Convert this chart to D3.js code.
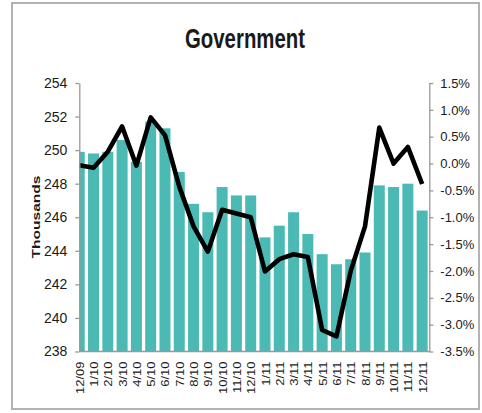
<!DOCTYPE html>
<html>
<head>
<meta charset="utf-8">
<script src="https://cdn.jsdelivr.net/npm/d3@7"></script>
<style>
  html, body { margin: 0; padding: 0; background: #fff; }
  svg { display: block; }
  text { font-family: "Liberation Sans", Arial, sans-serif; fill: #1a1a1a; }
</style>
</head>
<body>
<svg id="chart" width="482" height="413"></svg>
<script>
// Monthly government employment (thousands) and year-over-year change (%)
const months = ["12/09","1/10","2/10","3/10","4/10","5/10","6/10","7/10","8/10","9/10","10/10","11/10","12/10",
                "1/11","2/11","3/11","4/11","5/11","6/11","7/11","8/11","9/11","10/11","11/11","12/11"];
const employment = [249.9, 249.8, 249.9, 250.6, 249.3, 251.7, 251.3, 248.7, 246.8, 246.3, 247.8, 247.3, 247.3,
                    244.8, 245.5, 246.3, 245.0, 243.8, 243.2, 243.5, 243.9, 247.9, 247.8, 248.0, 246.4];
const yoyChange = [-0.03, -0.08, 0.22, 0.69, -0.04, 0.86, 0.53, -0.43, -1.17, -1.64, -0.86, -0.93, -1.00,
                   -2.01, -1.78, -1.69, -1.74, -3.10, -3.22, -2.00, -1.17, 0.67, 0.00, 0.31, -0.38];
const leftTicks = [238, 240, 242, 244, 246, 248, 250, 252, 254];
const rightTicks = [-3.5, -3.0, -2.5, -2.0, -1.5, -1.0, -0.5, 0.0, 0.5, 1.0, 1.5];

const svg = d3.select("#chart");
const plot = { left: 79.3, right: 429.3, top: 83, bottom: 351.5 };

// frame
svg.append("rect")
  .attr("x", 12).attr("y", 3).attr("width", 467).attr("height", 406)
  .attr("fill", "none").attr("stroke", "#b2b2b2").attr("stroke-width", 2);

// category axis: first category sits on the value axis
const x = d3.scaleBand().domain(months)
  .range([plot.left - 7.2, plot.right])
  .paddingInner(0.23).paddingOuter(0.115);
const cx = d => x(d) + x.bandwidth() / 2;

const y = d3.scaleLinear().domain([238, 254]).range([plot.bottom, plot.top]);
const y2 = d3.scaleLinear().domain([-3.5, 1.5]).range([plot.bottom, plot.top]);

svg.append("clipPath").attr("id", "plotClip")
  .append("rect").attr("x", plot.left).attr("y", 0)
  .attr("width", 482 - plot.left).attr("height", 413);

const body = svg.append("g").attr("clip-path", "url(#plotClip)");

// bars
body.selectAll("rect.bar").data(months).join("rect")
  .attr("class", "bar")
  .attr("x", d => x(d))
  .attr("width", x.bandwidth())
  .attr("y", (d, i) => y(employment[i]))
  .attr("height", (d, i) => plot.bottom - y(employment[i]))
  .attr("fill", "#4bbab4");

// year-over-year line
const line = d3.line().x((d, i) => cx(months[i])).y(d => y2(d));
body.append("path").datum(yoyChange)
  .attr("d", line)
  .attr("fill", "none").attr("stroke", "#000")
  .attr("stroke-width", 4.6).attr("stroke-linejoin", "round").attr("stroke-linecap", "butt");

// left axis
const gl = svg.append("g").attr("transform", `translate(${plot.left},0)`)
  .call(d3.axisLeft(y).tickValues(leftTicks).tickSize(4).tickSizeOuter(0).tickPadding(8));
gl.selectAll("text").style("font-size", "14px");

// right axis
const gr = svg.append("g").attr("transform", `translate(${plot.right},0)`)
  .call(d3.axisRight(y2).tickValues(rightTicks).tickSize(4).tickSizeOuter(0).tickPadding(7)
    .tickFormat(d => d.toFixed(1) + "%"));
gr.selectAll("text").style("font-size", "13px");

[gl, gr].forEach(g => {
  g.select(".domain").attr("stroke", "#999").attr("stroke-width", 1.3);
  g.selectAll(".tick line").attr("stroke", "#999").attr("stroke-width", 1.3);
  g.selectAll("text").attr("fill", "#1a1a1a");
});

// bottom axis
svg.append("line")
  .attr("x1", plot.left).attr("x2", plot.right)
  .attr("y1", plot.bottom).attr("y2", plot.bottom)
  .attr("stroke", "#999").attr("stroke-width", 1.3);

const gb = svg.append("g").attr("transform", `translate(0,${plot.bottom})`)
  .call(d3.axisBottom(x).tickSize(0));
gb.select(".domain").remove();
gb.selectAll("text")
  .attr("transform", "rotate(-90) scale(1.3,1)")
  .attr("x", -10 / 1.3).attr("y", 0).attr("dy", "0.45em")
  .attr("text-anchor", "end")
  .style("font-size", "10px");

// titles
svg.append("text")
  .attr("x", 245).attr("y", 48)
  .attr("text-anchor", "middle")
  .attr("textLength", 120).attr("lengthAdjust", "spacingAndGlyphs")
  .style("font-size", "28px").style("font-weight", "bold")
  .attr("fill", "#000")
  .text("Government");

svg.append("text")
  .attr("transform", "translate(40,217) rotate(-90) scale(1.35,1)")
  .attr("text-anchor", "middle")
  .style("font-size", "11.5px").style("font-weight", "bold")
  .attr("fill", "#1a1a1a")
  .text("Thousands");
</script>
</body>
</html>
